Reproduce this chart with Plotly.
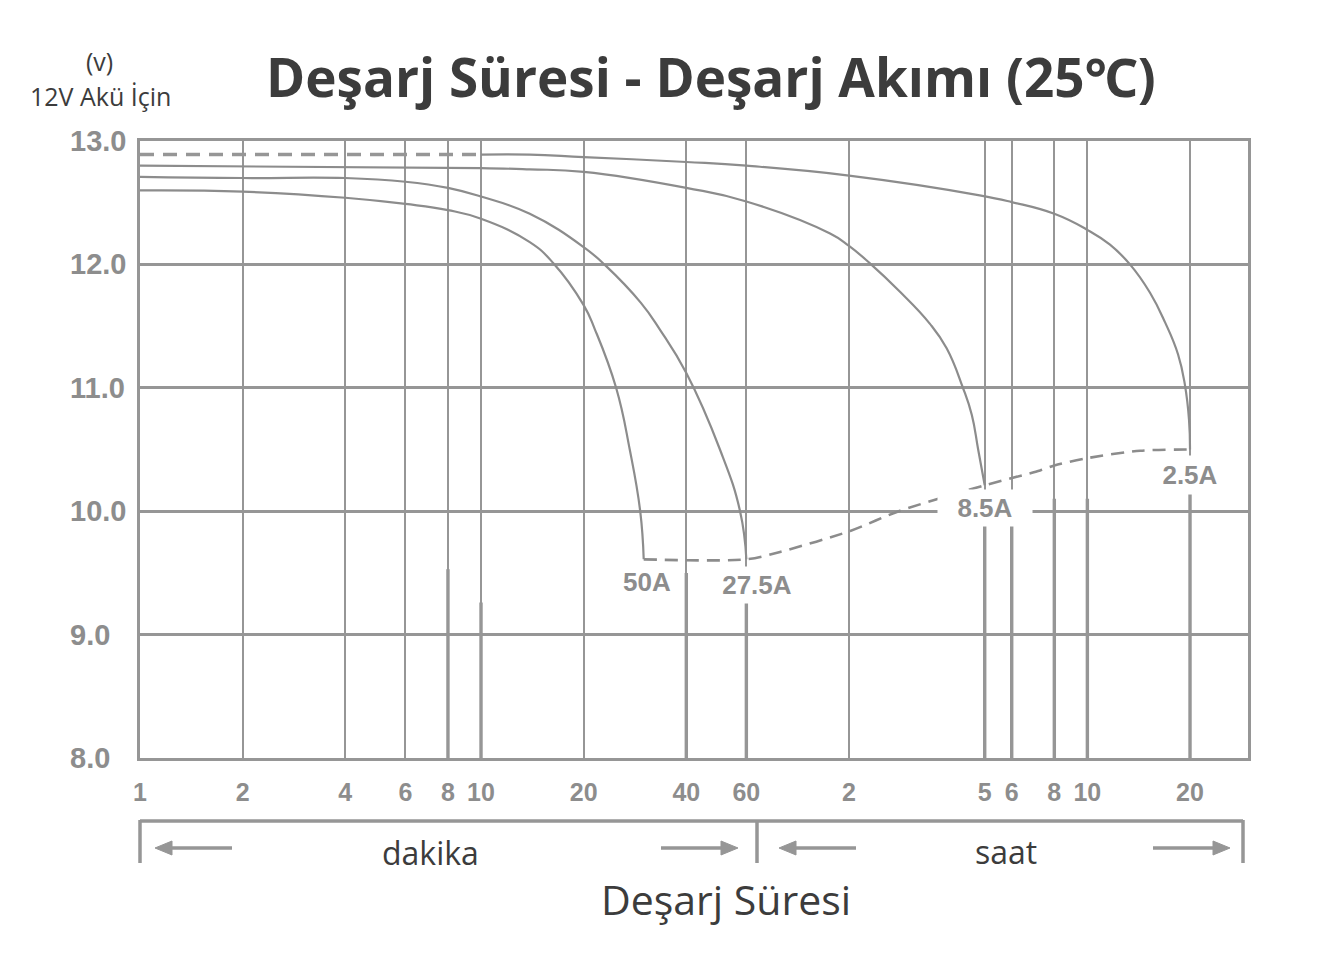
import math
import plotly.graph_objects as go

# ---------------- data ----------------
title_text = "Deşarj Süresi - Deşarj Akımı (25℃)"
y_unit_text = "(v)"
y_caption_text = "12V Akü İçin"
x_title_text = "Deşarj Süresi"
minute_text = "dakika"
hour_text = "saat"

# x axis: discharge time in minutes (log scale)
x_tick_minutes = [1, 2, 4, 6, 8, 10, 20, 40, 60, 120, 300, 360, 480, 600, 1200]
x_tick_labels = ["1", "2", "4", "6", "8", "10", "20", "40", "60", "2", "5", "6", "8", "10", "20"]
x_max_minutes = 1775

y_ticks = [8.0, 9.0, 10.0, 11.0, 12.0, 13.0]
y_tick_labels = ["8.0", "9.0", "10.0", "11.0", "12.0", "13.0"]

# 50A
t_50a = [1, 2, 4, 6, 8, 10, 13.9, 16.3, 20, 21.6, 24.9, 27.3, 29.3, 30]
v_50a = [12.60, 12.59, 12.54, 12.49, 12.44, 12.37, 12.18, 12.01, 11.67, 11.47, 11.00, 10.50, 10.00, 9.61]
# 27.5A
t_275a = [1, 2, 4, 6, 8, 10, 13.9, 20, 23.2, 29.4, 33.5, 40, 50.2, 57.5, 60]
v_275a = [12.71, 12.70, 12.70, 12.67, 12.62, 12.55, 12.41, 12.14, 11.99, 11.69, 11.47, 11.12, 10.50, 10.00, 9.61]
# 8.5A
t_85a = [1, 10, 13.9, 20, 40, 60, 105.6, 120, 138, 169, 207, 232, 259, 275, 287, 300]
v_85a = [12.80, 12.78, 12.77, 12.75, 12.62, 12.51, 12.25, 12.15, 12.01, 11.78, 11.52, 11.32, 11.00, 10.78, 10.50, 10.21]
# 2.5A (dashed start, then solid)
t_25a_dash = [1, 10]
v_25a_dash = [12.89, 12.89]
t_25a = [10, 13.9, 20, 40, 60, 120, 290, 360, 480, 600, 699, 800, 916, 1014, 1107, 1160, 1192, 1200]
v_25a = [12.89, 12.89, 12.87, 12.83, 12.80, 12.72, 12.56, 12.505, 12.41, 12.28, 12.16, 12.00, 11.77, 11.53, 11.27, 11.02, 10.74, 10.50]
# end-voltage line (dashed)
t_end = [30, 60, 75.3, 121, 168, 300, 436, 480, 600, 857, 1200]
v_end = [9.61, 9.61, 9.67, 9.84, 10.00, 10.21, 10.33, 10.37, 10.43, 10.49, 10.50]

current_labels = ["50A", "27.5A", "8.5A", "2.5A"]
current_label_t = [30.7, 64.5, 300, 1200]
current_label_v = [9.43, 9.40, 10.03, 10.29]

# thicker lower grid segments (as drawn in the original)
thick_grid_t = [8, 10, 40, 60, 300, 360, 480, 600, 1200]
thick_grid_top = [9.53, 9.26, 9.5, 9.26, 9.9, 9.9, 10.1, 10.1, 10.15]

# ---------------- style ----------------
OFF = 8                      # page offset of the plot div
W, H = 1319 - OFF, 976 - OFF
L, R, T, B = 140, 1248, 141, 758  # plot area in page pixels
GRID = "#969696"
CURVE = "#8c8c8c"
LABEL = "#8d8d8d"
DARK = "#3c3c3c"
OPEN = "Open Sans, Noto Sans, DejaVu Sans, sans-serif"
ARIAL = "Liberation Sans, Arial, sans-serif"


def px(x):
    return (x - L) / (R - L)


def py(y):
    return (B - y) / (B - T)


fig = go.Figure()

for t, top in zip(thick_grid_t, thick_grid_top):
    fig.add_trace(go.Scatter(x=[t, t], y=[8.0, top], mode="lines",
                             line=dict(color=GRID, width=3.4),
                             hoverinfo="skip", showlegend=False))

line_style = dict(color=CURVE, width=2.2, shape="spline", smoothing=1.3)
for t, v in [(t_50a, v_50a), (t_275a, v_275a), (t_85a, v_85a), (t_25a, v_25a)]:
    fig.add_trace(go.Scatter(x=t, y=v, mode="lines", line=line_style,
                             hoverinfo="skip", showlegend=False))

fig.add_trace(go.Scatter(x=t_25a_dash, y=v_25a_dash, mode="lines",
                         line=dict(color=GRID, width=3.6, dash="14px,9px"),
                         hoverinfo="skip", showlegend=False))
fig.add_trace(go.Scatter(x=t_end, y=v_end, mode="lines",
                         line=dict(color=CURVE, width=2.6, dash="13px,8px",
                                   shape="spline", smoothing=0.8),
                         hoverinfo="skip", showlegend=False))

annotations = []
# y tick labels (left aligned, as in the original)
for v, lab in zip(y_ticks, y_tick_labels):
    annotations.append(dict(x=px(68), xref="paper", xanchor="left",
                            y=v, yref="y", yanchor="middle", text="<b>%s</b>" % lab,
                            showarrow=False,
                            font=dict(family=ARIAL, size=29, color=LABEL)))

box_w = [56, 78, 92, 70]
box_h = [30, 34, 34, 36]
for lab, t, v, bw, bh in zip(current_labels, current_label_t, current_label_v, box_w, box_h):
    annotations.append(dict(x=math.log10(t), xref="x", y=v, yref="y",
                            xanchor="center", yanchor="middle",
                            text="<b>%s</b>" % lab, showarrow=False,
                            bgcolor="white", width=bw, height=bh,
                            font=dict(family=ARIAL, size=26, color=LABEL)))


def txt(x, y, s, size, bold=False):
    return dict(x=px(x), y=py(y), xref="paper", yref="paper",
                xanchor="center", yanchor="middle",
                text=("<b>%s</b>" % s) if bold else s, showarrow=False,
                font=dict(family=OPEN, size=size, color=DARK))


annotations += [
    txt(711, 77, title_text, 53, bold=True),
    txt(99, 61, y_unit_text, 25),
    txt(100, 96, y_caption_text, 25),
    txt(430, 852, minute_text, 32),
    txt(1006, 851, hour_text, 32),
    txt(726, 899, x_title_text, 41),
]

shapes = []
bl = dict(color=GRID, width=3.5)
for (x0, y0, x1, y1) in [(140, 821, 1243, 821), (140, 820, 140, 863),
                         (757, 820, 757, 863), (1243, 820, 1243, 863)]:
    shapes.append(dict(type="line", xref="paper", yref="paper",
                       x0=px(x0), y0=py(y0), x1=px(x1), y1=py(y1), line=bl))

ay = 848
for tail, tip in [(232, 155), (661, 738), (856, 779), (1153, 1230)]:
    d = 1 if tip > tail else -1
    base = tip - d * 17
    shapes.append(dict(type="line", xref="paper", yref="paper",
                       x0=px(tail), y0=py(ay), x1=px(base), y1=py(ay),
                       line=dict(color=GRID, width=3.5)))
    path = "M %f,%f L %f,%f L %f,%f Z" % (px(tip), py(ay), px(base), py(ay - 7),
                                          px(base), py(ay + 7))
    shapes.append(dict(type="path", xref="paper", yref="paper", path=path,
                       fillcolor=GRID, line=dict(color=GRID, width=1)))

fig.update_layout(
    width=W, height=H,
    margin=dict(l=L - OFF, r=W - (R - OFF), t=T - OFF, b=H - (B - OFF), autoexpand=False),
    paper_bgcolor="white", plot_bgcolor="white",
    showlegend=False,
    annotations=annotations,
    shapes=shapes,
    xaxis=dict(type="log", range=[0, math.log10(x_max_minutes)],
               tickmode="array", tickvals=x_tick_minutes, ticktext=x_tick_labels,
               showgrid=True, gridcolor=GRID, gridwidth=2,
               showline=True, mirror=True, linecolor=GRID, linewidth=3,
               ticks="", zeroline=False, ticklabelstandoff=10,
               tickfont=dict(family=ARIAL, size=25, color=LABEL, weight="bold"),
               fixedrange=True),
    yaxis=dict(range=[8, 13], tickmode="array", tickvals=y_ticks,
               showticklabels=False, showgrid=True, gridcolor=GRID, gridwidth=3.4,
               showline=True, mirror=True, linecolor=GRID, linewidth=3,
               ticks="", zeroline=False, fixedrange=True),
)

fig.write_html("out.html")
